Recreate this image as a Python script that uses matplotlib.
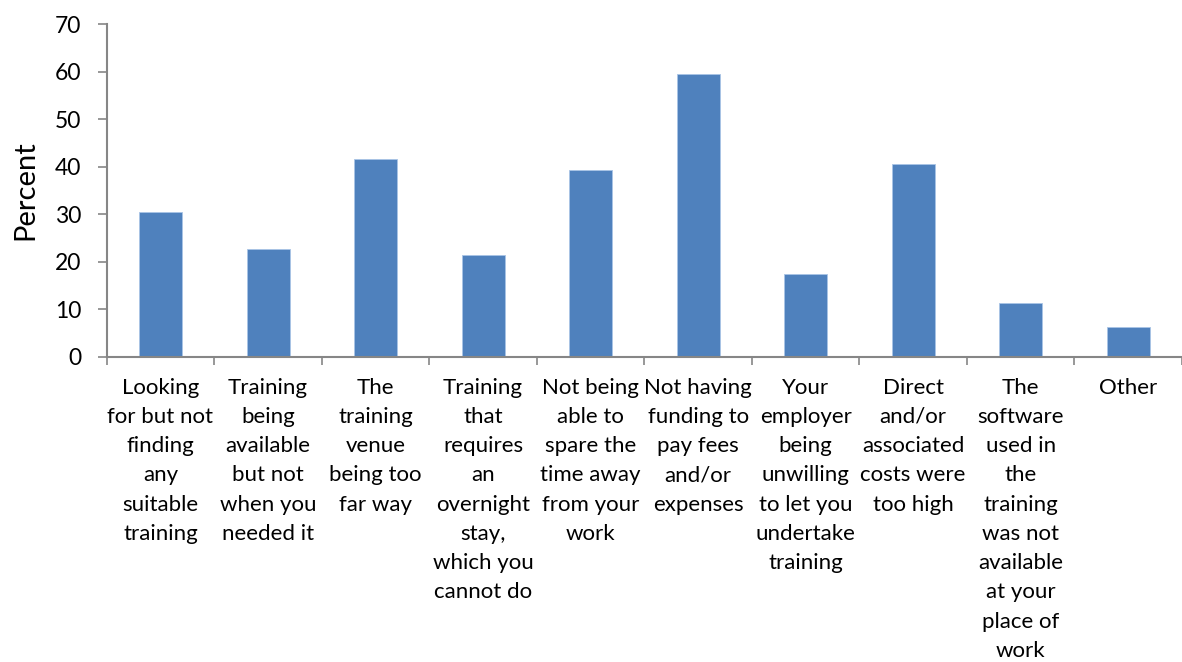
import matplotlib
matplotlib.use("Agg")
import matplotlib.pyplot as plt
import numpy as np

# barriers to attending training, percent of respondents
reasons = [
    "Looking\nfor but not\nfinding\nany\nsuitable\ntraining",
    "Training\nbeing\navailable\nbut not\nwhen you\nneeded it",
    "The\ntraining\nvenue\nbeing too\nfar way",
    "Training\nthat\nrequires\nan\novernight\nstay,\nwhich you\ncannot do",
    "Not being\nable to\nspare the\ntime away\nfrom your\nwork",
    "Not having\nfunding to\npay fees\nand/or\nexpenses",
    "Your\nemployer\nbeing\nunwilling\nto let you\nundertake\ntraining",
    "Direct\nand/or\nassociated\ncosts were\ntoo high",
    "The\nsoftware\nused in\nthe\ntraining\nwas not\navailable\nat your\nplace of\nwork",
    "Other",
]
percent = [30.4, 22.7, 41.7, 21.5, 39.2, 59.4, 17.5, 40.5, 11.3, 6.2]

plt.rcParams['font.family'] = ['Lato', 'DejaVu Sans']

fig = plt.figure(figsize=(11.82, 6.62), dpi=100)
ax = fig.add_axes([0.0903, 0.4612, 0.9097, 0.5025])

x = np.arange(len(reasons))
ax.bar(x, percent, width=0.4, color='#4f81bd', edgecolor='#a9c4e6', linewidth=0.6, zorder=2)

ax.set_xlim(-0.5, len(reasons) - 0.5)
ax.set_ylim(0, 70)
ax.set_yticks(range(0, 71, 10))
ax.tick_params(axis='y', labelsize=16.5, length=6.5, width=1.2, color='#868686', pad=12)

# category ticks sit on the boundaries between bars
ax.set_xticks(np.arange(len(reasons) + 1) - 0.5)
ax.set_xticklabels([])
ax.tick_params(axis='x', length=6, width=1.2, color='#868686')
for xi, label in zip(x, reasons):
    ax.annotate(label, xy=(xi, 0), xycoords=('data', 'axes fraction'),
                xytext=(0, -15), textcoords='offset points',
                ha='center', va='top', fontsize=16, linespacing=1.58)

for side in ['top', 'right']:
    ax.spines[side].set_visible(False)
for side in ['left', 'bottom']:
    ax.spines[side].set_color('#868686')
    ax.spines[side].set_linewidth(1.5)

ax.set_ylabel("Percent", fontsize=21)
ax.yaxis.set_label_coords(-0.064, 0.5)

fig.savefig("out.png", dpi=100)
